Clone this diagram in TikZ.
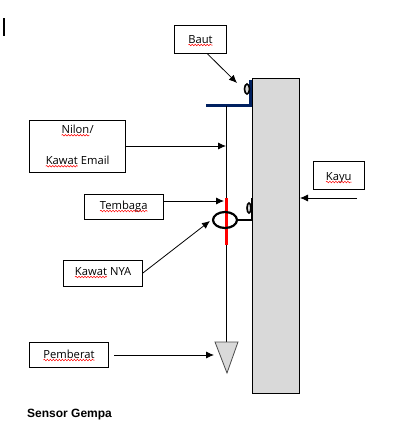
\documentclass[tikz,border=0pt]{standalone}
\usepackage{fontspec}
\setmainfont{Open Sans}
\newfontfamily\capfont{Liberation Sans}
\usetikzlibrary{arrows.meta,decorations.pathmorphing,shapes.geometric}
\definecolor{navy}{RGB}{0,32,96}
\newcommand{\spell}[1]{\tikz[baseline=(w.base)]{\node[inner sep=0pt,outer sep=0pt,minimum width=0pt,minimum height=0pt,draw=none,text height=,text depth=] (w) {#1};
	\draw[red,line width=0.5pt,decorate,decoration={snake,amplitude=0.8pt,segment length=3pt}] ([yshift=-2pt]w.base west) -- ([yshift=-2pt]w.base east);}}
\begin{document}
\begin{tikzpicture}[
	x=1pt, y=-1pt,
	labelbox/.style={ draw, thick, inner sep=0pt, font=\fontsize{11.2}{12}\selectfont, align=center, text depth=0pt },
	conn/.style={ -{Latex[length=8pt,width=7pt]}, thick },
	bracket/.style={ draw=navy, line width=3.5pt },
	bolt/.style={ ellipse, draw, line width=1.6pt, fill=black!15, inner sep=0pt, minimum width=5pt, minimum height=10pt }
]
\useasboundingbox (0,0) rectangle (404,440);

% cursor
\draw[line width=1.3pt] (4,18) -- (4,36);

% wood post
\path[draw,thick,fill=black!15] (252.5,78) rectangle (299.5,393);

% top bracket
\draw[bracket] (206,105.5) -- (250.5,105.5) -- (250.5,80);
\node at (247,89) (boltt) [bolt] {};

% wire
\draw[thick] (226.5,106) -- (226.5,343);

% copper
\draw[red,line width=3pt] (226,198) -- (226,245);

% ring and lower bracket
\node at (225,220) (ring) [ellipse,draw,line width=2.2pt,inner sep=0pt,minimum width=24pt,minimum height=16pt] {};
\draw[line width=2pt] (ring.east) -- (252,220) -- (252,198);
\node at (249,208) (boltb) [bolt,minimum width=4pt] {};

% weight
\draw[draw=black!70,thick,fill=black!15] (215,342) -- (238,342) -- (227,373) -- cycle;

% labels
\node at (200.5,39) (baut) [labelbox,text height=8pt,minimum width=51.5pt,minimum height=28pt] {\spell{Baut}};
\node at (77.5,146) (nilon) [labelbox,text depth=,minimum width=96pt,minimum height=52pt] {\spell{Nilon}/\\[19pt]\spell{Kawat} Email};
\node at (123.75,207) (tembaga) [labelbox,text height=4pt,minimum width=78.5pt,minimum height=25.5pt] {\spell{Tembaga}};
\node at (103,273) (nya) [labelbox,text height=4pt,minimum width=79pt,minimum height=26pt] {\spell{Kawat} NYA};
\node at (69,355) (pemberat) [labelbox,text height=6pt,minimum width=79pt,minimum height=25.5pt] {\spell{Pemberat}};
\node at (338.75,175) (kayu) [labelbox,text height=10pt,minimum width=51.5pt,minimum height=28pt] {\spell{Kayu}};
\node at (27,415) (caption) [anchor=west,inner sep=0pt,font=\capfont\bfseries\fontsize{12}{14}\selectfont] {Sensor Gempa};

% arrow ends
\coordinate (bautend) at (237,83);
\coordinate (nilonend) at (226,146);
\coordinate (tembagaend) at (224,201);
\coordinate (nyaend) at (210,221);
\coordinate (pemberatstart) at (114,355);
\coordinate (pemberatend) at (214,355);
\coordinate (kayustart) at (357,198);
\coordinate (kayuend) at (300,198);

\draw[conn] ([xshift=6.5pt]baut.south) to (bautend);
\draw[conn] (nilon.east) to (nilonend);
\draw[conn] ([yshift=6pt]tembaga.east) to (tembagaend);
\draw[conn] (nya.east) to (nyaend);
\draw[conn] (pemberatstart) to (pemberatend);
\draw[conn] (kayustart) to (kayuend);

\end{tikzpicture}
\end{document}
